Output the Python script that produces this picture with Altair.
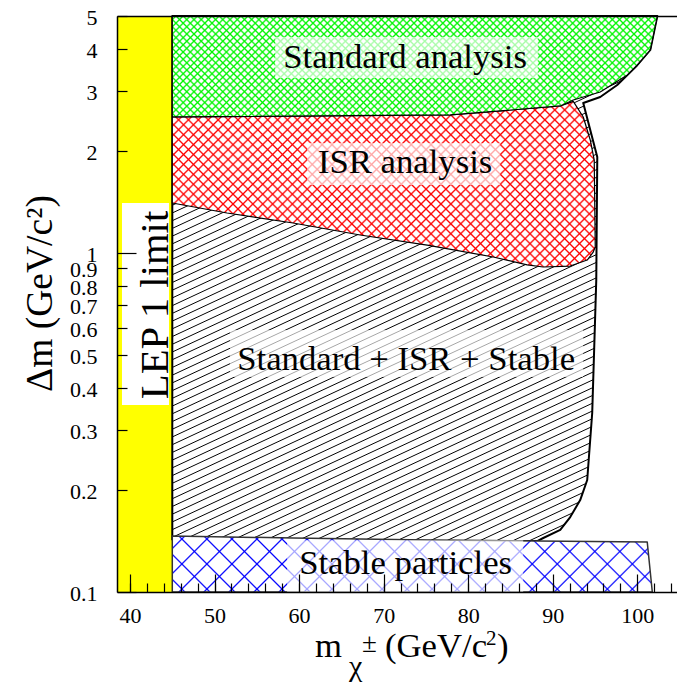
import math
import altair as alt
import pandas as pd

# ---------------- values ----------------
x_label_values = [40, 50, 60, 70, 80, 90, 100]
x_minor_values = [40, 42, 44, 46, 48, 50, 52, 54, 56, 58, 60, 62, 64, 66, 68, 70,
                  72, 74, 76, 78, 80, 82, 84, 86, 88, 90, 92, 94, 96, 98, 100, 102, 104]
y_label_values = [0.1, 0.2, 0.3, 0.4, 0.5, 0.6, 0.7, 0.8, 0.9, 1, 2, 3, 4, 5]
y_short_values = [0.2, 0.3, 0.4, 0.5, 0.6, 0.7, 0.8, 0.9, 2, 3, 4, 5]
y_long_values = [0.1, 1]

# LEP 1 limit band
lep_x = [38.46, 45.0]
lep_y = [0.1, 5.0]

# Standard + ISR + Stable (outer envelope)
comb_x = [45.0, 88.17, 88.88, 90.89, 92.07, 93.25, 94.08, 94.67, 94.91, 95.15, 95.27,
          93.61, 95.62, 97.63, 100.0, 101.54, 102.37, 45.0, 45.0]
comb_y = [0.142, 0.1413, 0.1443, 0.1524, 0.1664, 0.1867, 0.214, 0.3372, 0.528, 0.8322, 1.919,
          2.77, 2.885, 3.13, 3.58, 3.97, 5.0, 5.0, 0.142]

# ISR analysis
red_x = [45.0, 77.87, 90.9, 92.43, 93.61, 94.44, 94.91, 95.03, 94.79, 94.08, 92.07, 88.88,
         86.98, 82.96, 75.15, 67.22, 59.29, 51.48, 45.0, 45.0]
red_y = [2.52, 2.553, 2.714, 2.80, 2.518, 2.154, 1.88, 1.041, 1.006, 0.953, 0.915, 0.909,
         0.922, 0.973, 1.055, 1.13, 1.226, 1.312, 1.404, 2.52]

# Standard analysis
green_x = [45.0, 77.87, 90.9, 92.43, 95.62, 98.82, 100.0, 101.54, 102.37, 45.0, 45.0]
green_y = [2.52, 2.553, 2.714, 2.827, 2.985, 3.35, 3.585, 3.97, 5.0, 5.0, 2.52]

# Stable particles
blue_x = [45.0, 45.0, 59.29, 75.15, 88.17, 101.18, 101.78, 45.0]
blue_y = [0.1, 0.1463, 0.1443, 0.1423, 0.1413, 0.1404, 0.1, 0.1]

# text labels
label_text = ["Standard analysis", "ISR analysis", "Standard + ISR + Stable", "Stable particles"]
label_x = [72.54, 72.54, 72.66, 72.6]
label_y = [3.512, 1.721, 0.4516, 0.113]
box_x0 = [57.16, 60.95, 51.83, 58.58]
box_x1 = [88.28, 83.79, 93.6, 86.51]
box_y0 = [3.282, 1.586, 0.4306, 0.1]
box_y1 = [4.335, 2.11, 0.5926, 0.142]

lep_text = ["LEP 1 limit"]
lep_text_x = [44.5]
lep_text_y = [0.7025]
lep_box_x0 = [39.05]
lep_box_x1 = [44.61]
lep_box_y0 = [0.356]
lep_box_y1 = [1.404]

# ---------------- layout ----------------
W, H = 560, 576
XMIN, XMAX = 38.46, 104.7
YMIN, YMAX = 0.1, 5.0
FONT = "Liberation Serif"

XS = alt.Scale(domain=[XMIN, XMAX], nice=False, zero=False)
YS = alt.Scale(type="log", domain=[YMIN, YMAX], nice=False)


def px(v):
    return (v - XMIN) / (XMAX - XMIN) * W


def py(v):
    return (math.log10(YMAX) - math.log10(v)) / (math.log10(YMAX) - math.log10(YMIN)) * H


def hatch(xs, ys, angle_deg, spacing, rgb, lw=1.0):
    """Striped linear gradient (bbox units) imitating a hatch fill; soft-edged lines."""
    X = [px(v) for v in xs]
    Y = [py(v) for v in ys]
    bw = max(X) - min(X)
    bh = max(Y) - min(Y)
    th = math.radians(angle_deg)
    nx, ny = math.sin(th), math.cos(th)
    L = abs(nx) * bw + abs(ny) * bh
    a = L / (nx * nx * bw * bw + ny * ny * bh * bh)
    dx, dy = a * nx * bw, a * ny * bh
    x1 = 0.0 if nx >= 0 else 1.0
    y1 = 0.0 if ny >= 0 else 1.0
    on = "rgba(%d,%d,%d,1)" % rgb
    off = "rgba(%d,%d,%d,0)" % rgb
    hw = lw / L
    stops = [(0.0, off)]
    n = int(L / spacing) + 1
    for i in range(n):
        c = (i + 0.5) * spacing / L
        if c - hw <= 0 or c + hw >= 1:
            continue
        stops += [(c - hw, off), (c, on), (c + hw, off)]
    stops.append((1.0, off))
    return {
        "gradient": "linear",
        "x1": x1, "y1": y1, "x2": x1 + dx, "y2": y1 + dy,
        "stops": [{"offset": round(o, 6), "color": col} for o, col in stops],
    }


def enc_xy():
    return dict(
        x=alt.X("x:Q", scale=XS, axis=None),
        y=alt.Y("y:Q", scale=YS, axis=None),
        order=alt.Order("i:Q"),
    )


def region(xs, ys, rgb, angles, spacing, lw, stroke, stroke_w):
    df = pd.DataFrame({"x": xs, "y": ys, "i": list(range(len(xs)))})
    layers = [alt.Chart(df).mark_line(fill="white", strokeOpacity=0).encode(**enc_xy())]
    for ang in angles:
        layers.append(
            alt.Chart(df).mark_line(fill=hatch(xs, ys, ang, spacing, rgb, lw), strokeOpacity=0)
            .encode(**enc_xy())
        )
    layers.append(
        alt.Chart(df).mark_line(stroke=stroke, strokeWidth=stroke_w, strokeJoin="round")
        .encode(**enc_xy())
    )
    return layers


# yellow band
lep_df = pd.DataFrame({"x0": [lep_x[0]], "x1": [lep_x[1]], "y0": [lep_y[0]], "y1": [lep_y[1]]})
yellow = alt.Chart(lep_df).mark_rect(color="#ffff00").encode(
    x=alt.X("x0:Q", scale=XS, axis=None), x2="x1:Q",
    y=alt.Y("y0:Q", scale=YS, axis=None), y2="y1:Q",
)

layers = [yellow]
layers += region(comb_x, comb_y, (0, 0, 0), [25], 7.0, 0.9, "black", 2.0)
layers += region(red_x, red_y, (255, 0, 0), [45, 135], 7.0, 1.3, "black", 1.2)
layers += region(green_x, green_y, (0, 245, 0), [45, 135], 5.1, 1.3, "black", 1.2)
layers += region(blue_x, blue_y, (0, 0, 255), [45, 135], 17.7, 1.2, "#333333", 1.5)

box_df = pd.DataFrame({"x0": box_x0, "x1": box_x1, "y0": box_y0, "y1": box_y1})
boxes = alt.Chart(box_df).mark_rect(color="white", opacity=0.65).encode(
    x=alt.X("x0:Q", scale=XS, axis=None), x2="x1:Q",
    y=alt.Y("y0:Q", scale=YS, axis=None), y2="y1:Q",
)
lep_box_df = pd.DataFrame({"x0": lep_box_x0, "x1": lep_box_x1, "y0": lep_box_y0, "y1": lep_box_y1})
lep_box = alt.Chart(lep_box_df).mark_rect(color="white").encode(
    x=alt.X("x0:Q", scale=XS, axis=None), x2="x1:Q",
    y=alt.Y("y0:Q", scale=YS, axis=None), y2="y1:Q",
)
lab_df = pd.DataFrame({"t": label_text, "x": label_x, "y": label_y})
labels = alt.Chart(lab_df).mark_text(
    font=FONT, fontSize=34.7, align="center", baseline="alphabetic", color="black"
).encode(x=alt.X("x:Q", scale=XS, axis=None), y=alt.Y("y:Q", scale=YS, axis=None), text="t:N")
lep_df2 = pd.DataFrame({"t": lep_text, "x": lep_text_x, "y": lep_text_y})
lep_label = alt.Chart(lep_df2).mark_text(
    font=FONT, fontSize=40.7, align="center", baseline="alphabetic", angle=270, color="black"
).encode(x=alt.X("x:Q", scale=XS, axis=None), y=alt.Y("y:Q", scale=YS, axis=None), text="t:N")

layers += [boxes, lep_box, labels, lep_label]

# ---------------- axes ----------------
tick_style = dict(tickColor="black", tickWidth=1.2, labels=False, domain=False, grid=False,
                  title=None, zindex=1)
x_lab_axis = alt.Axis(orient="bottom", values=x_label_values, format="d", ticks=False, tickSize=0,
                      labelPadding=13, labelFont=FONT, labelFontSize=22, labelColor="black",
                      labelFlush=False, labelOverlap=False, domain=True, domainColor="black",
                      domainWidth=1.5, grid=False, title=None, zindex=1)
x_major_axis = alt.Axis(orient="bottom", values=x_label_values, offset=-18, tickSize=18, **tick_style)
x_minor_axis = alt.Axis(orient="bottom", values=x_minor_values, offset=-9, tickSize=9, **tick_style)
x_top_axis = alt.Axis(orient="top", ticks=False, labels=False, domain=True, domainColor="black",
                      domainWidth=1.5, grid=False, title=None, zindex=1)
y_lab_axis = alt.Axis(orient="left", values=y_label_values, format="~g", ticks=False, tickSize=0,
                      labelPadding=20, labelFont=FONT, labelFontSize=22, labelColor="black",
                      labelFlush=False, labelOverlap=False, labelBaseline="middle", labelOffset=1.5,
                      domain=True, domainColor="black", domainWidth=1.5, grid=False, zindex=1,
                      title="Δm (GeV/c²)", titleFont=FONT, titleFontSize=37.5,
                      titleFontWeight="normal", titleColor="black", titleAngle=270,
                      titleAlign="center", titleBaseline="alphabetic", titleX=-66, titleY=277)
y_short_axis = alt.Axis(orient="left", values=y_short_values, offset=-10, tickSize=10, **tick_style)
y_long_axis = alt.Axis(orient="left", values=y_long_values, offset=-19, tickSize=19, **tick_style)

ax_df = pd.DataFrame({"x": [45.0], "y": [1.0]})


def axis_layer(xa, ya):
    return alt.Chart(ax_df).mark_point(opacity=0).encode(
        x=alt.X("x:Q", scale=XS, axis=xa), y=alt.Y("y:Q", scale=YS, axis=ya)
    )


layers += [
    axis_layer(x_lab_axis, y_lab_axis),
    axis_layer(x_major_axis, y_short_axis),
    axis_layer(x_minor_axis, y_long_axis),
    axis_layer(x_top_axis, None),
]

# ---------------- x title pieces ----------------
title_parts = [
    ("m", 198, 641, 34.7),
    ("χ", 232, 660, 30),
    ("±", 245, 636, 27),
    ("(GeV/c", 268, 641, 34.7),
    ("2", 369, 629, 21),
    (")", 380, 641, 34.7),
]
for txt, tx, ty, fs in title_parts:
    layers.append(
        alt.Chart(ax_df).mark_text(text=txt, font=FONT, fontSize=fs, align="left",
                                   baseline="alphabetic", color="black")
        .encode(x=alt.value(tx), y=alt.value(ty))
    )

chart = alt.layer(*layers).resolve_axis(x="independent", y="independent").properties(
    width=W, height=H,
    autosize=alt.AutoSizeParams(type="none"),
    padding={"left": 109, "top": 8, "right": 0, "bottom": 100},
    background="white",
).configure_view(stroke=None)

chart.save("out.html", embed_options={"renderer": "svg", "actions": False})
